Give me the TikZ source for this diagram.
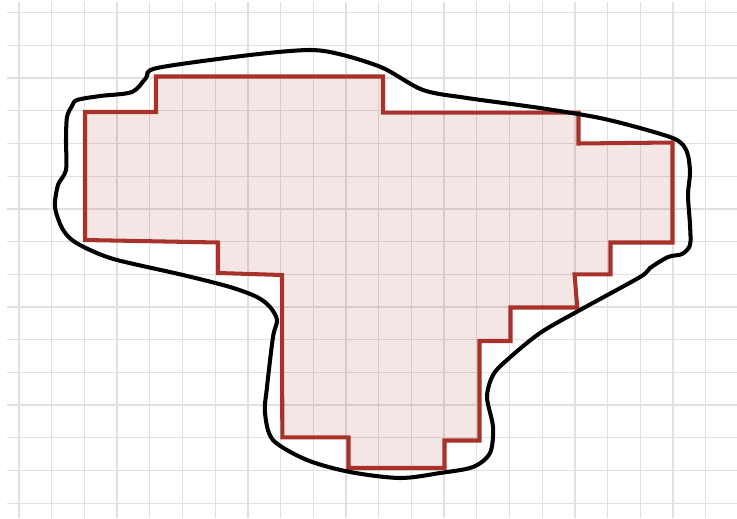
\documentclass[tikz,border=0pt]{standalone}
\usepackage{tikz}
\usetikzlibrary{positioning}
\definecolor{regionred}{RGB}{168,50,42}
\definecolor{gridgray}{RGB}{224,224,224}

\begin{document}
\begin{tikzpicture}[x=0.02cm, y=-0.02cm,
  gridline/.style={draw=gridgray, line width=0.7pt},
  region/.style={draw=regionred, line width=2.3pt, fill=regionred, fill opacity=0.12,
    line join=miter},
  blob/.style={draw=black, line width=2.3pt, line join=round, line cap=round}
]
  \useasboundingbox (0,0) rectangle (737,518);

  % background grid
  \foreach \k in {0,...,15}
    \draw[gridline] (7,12.7+32.7*\k) -- (737,12.7+32.7*\k);
  \foreach \k in {0,...,21}
    \draw[gridline] (19+32.7*\k,2) -- (19+32.7*\k,518);

  % staircase region
  \draw[region] (85,112) -- (156,112) -- (156,76.5) -- (383,76.5) -- (383,112.7)
    -- (578.5,112.7) -- (578.5,143.5) -- (672.5,142.5) -- (672.5,242.5)
    -- (610.5,242.5) -- (610.5,274.3) -- (574.5,274.3) -- (577.3,307.5)
    -- (510.5,307.5) -- (510.5,341) -- (479.5,341) -- (479.5,440.5)
    -- (444.5,440.5) -- (444.5,468) -- (348.5,468) -- (348.5,437.3)
    -- (282.3,437.3) -- (282,275) -- (218,273) -- (218,242.5) -- (85,240) -- cycle;

  % free-hand outline
  \draw[blob] plot[smooth cycle, tension=0.5] coordinates {
    (77,100) (100,96) (132,92) (146,78) (157,68) (250,55) (310,50) (343,55)
    (383,68) (423,90) (467,98) (540,108) (600,118) (647,130) (677,140)
    (687,152) (690,172) (688,195) (690,225) (690,245) (682,254) (668,257)
    (650,268) (640,277) (580,310) (540,333) (507,360) (493,375) (487,397)
    (493,427) (490,453) (473,467) (440,473) (400,478) (350,472) (307,460)
    (273,440) (265,413) (267,387) (273,337) (277,320) (270,307) (257,297)
    (230,287) (183,275) (117,260) (90,250) (72,240) (62,228) (55,207)
    (58,185) (66,170) (66,140) (67,117) (72,106)};
\end{tikzpicture}
\end{document}
